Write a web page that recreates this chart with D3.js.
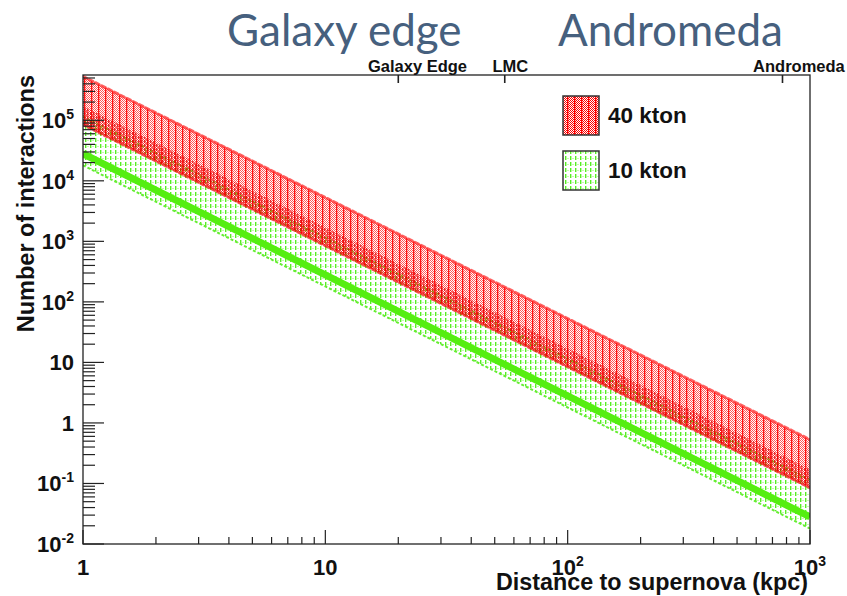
<!DOCTYPE html>
<html>
<head>
<meta charset="utf-8">
<script src="https://cdn.jsdelivr.net/npm/d3@7"></script>
<style>
  html, body { margin: 0; padding: 0; background: #ffffff; }
  svg { display: block; }
</style>
</head>
<body>
<svg id="chart" width="847" height="596"></svg>
<script>
// ---------- data ----------
const distances      = [1, 10, 100, 1000];                 // kpc
const kton40Upper    = [5.3e5, 5.3e3, 53, 0.53];
const kton40Lower    = [8.5e4, 850, 8.5, 0.085];
const kton40CoreUp   = [1.7e5, 1.7e3, 17, 0.17];
const kton40CoreLow  = [9.0e4, 900, 9.0, 0.09];
const kton10Upper    = [1.15e5, 1150, 11.5, 0.115];
const kton10Lower    = [1.8e4, 180, 1.8, 0.018];
const kton10Central  = [2.8e4, 280, 2.8, 0.028];

const yTickExps      = [-2, -1, 0, 1, 2, 3, 4, 5];
const xTickExps      = [0, 1, 2, 3];
const topTickNames   = ["Galaxy Edge", "LMC", "Andromeda"];
const topTickDist    = [20, 55, 770];
const topLabelDist   = [24, 58, 900];
const legendNames    = ["40 kton", "10 kton"];
const bigTitles      = ["Galaxy edge", "Andromeda"];

// ---------- layout ----------
const svg = d3.select("#chart");
const L = 83, R = 810, T = 75, B = 544;
const x = d3.scaleLog().domain([1, 1000]).range([L, R]);
const y = d3.scaleLog().domain([0.01, 5.6e5]).range([B, T]);

const defs = svg.append("defs");
defs.append("clipPath").attr("id", "clip")
  .append("rect").attr("x", L).attr("y", T).attr("width", R - L).attr("height", B - T);

function checker(id, color) {
  const p = defs.append("pattern").attr("id", id).attr("patternUnits", "userSpaceOnUse")
    .attr("width", 2).attr("height", 2);
  p.append("rect").attr("x", 0).attr("y", 0).attr("width", 1).attr("height", 1).attr("fill", color);
  p.append("rect").attr("x", 1).attr("y", 1).attr("width", 1).attr("height", 1).attr("fill", color);
}
checker("redChecker", "#ff0000");
const vl = defs.append("pattern").attr("id", "redLines").attr("patternUnits", "userSpaceOnUse")
  .attr("width", 7).attr("height", 7);
vl.append("rect").attr("x", 0).attr("y", 0).attr("width", 1.3).attr("height", 7).attr("fill", "#ff0000");
const dl = defs.append("pattern").attr("id", "redDense").attr("patternUnits", "userSpaceOnUse")
  .attr("width", 3).attr("height", 4);
dl.append("rect").attr("x", 0).attr("y", 0).attr("width", 1.5).attr("height", 3).attr("fill", "#e00000");
dl.append("rect").attr("x", 1.5).attr("y", 3).attr("width", 1.5).attr("height", 1).attr("fill", "#ff3030");

const gp = defs.append("pattern").attr("id", "greenDash").attr("patternUnits", "userSpaceOnUse")
  .attr("width", 5).attr("height", 6);
gp.append("rect").attr("x", 0).attr("y", 0).attr("width", 1.4).attr("height", 4).attr("fill", "#55ee22");
gp.append("rect").attr("x", 2.5).attr("y", 2).attr("width", 1).attr("height", 1).attr("fill", "#88ff55");

// ---------- bands ----------
const area = d3.area().x(d => x(d.d)).y0(d => y(d.lo)).y1(d => y(d.hi));
const line = d3.line().x(d => x(d.d)).y(d => y(d.v));
const band = (hi, lo) => distances.map((d, i) => ({ d, hi: hi[i], lo: lo[i] }));
const curve = v => distances.map((d, i) => ({ d, v: v[i] }));

const g = svg.append("g").attr("clip-path", "url(#clip)");

// 10 kton band
g.append("path").attr("d", area(band(kton10Upper, kton10Lower))).attr("fill", "url(#greenDash)");
[kton10Upper, kton10Lower].forEach(v =>
  g.append("path").attr("d", line(curve(v))).attr("fill", "none")
    .attr("stroke", "#66ee33").attr("stroke-width", 2).attr("stroke-dasharray", "3 2"));

// 40 kton band
const redBand = area(band(kton40Upper, kton40Lower));
g.append("path").attr("d", redBand).attr("fill", "url(#redChecker)").attr("opacity", 0.65);
g.append("path").attr("d", redBand).attr("fill", "url(#redLines)").attr("opacity", 0.9);
g.append("path").attr("d", area(band(kton40CoreUp, kton40CoreLow))).attr("fill", "url(#redDense)").attr("opacity", 0.75);
g.append("path").attr("d", line(curve(kton40Upper))).attr("fill", "none")
  .attr("stroke", "#ff2020").attr("stroke-width", 3).attr("stroke-linecap", "round")
  .attr("stroke-dasharray", "4 3").attr("opacity", 0.7);
g.append("path").attr("d", line(curve(kton40Lower))).attr("fill", "none")
  .attr("stroke", "#ee0000").attr("stroke-width", 3).attr("stroke-linecap", "round")
  .attr("stroke-dasharray", "3 3").attr("opacity", 0.7);

// 10 kton central line
g.append("path").attr("d", line(curve(kton10Central))).attr("fill", "none")
  .attr("stroke", "#55ee11").attr("stroke-width", 7);

// ---------- frame & axes ----------
svg.append("rect").attr("x", L).attr("y", T).attr("width", R - L).attr("height", B - T)
  .attr("fill", "none").attr("stroke", "#222").attr("stroke-width", 1.3);

const tickCol = "#222";
// x ticks
for (let e = 0; e < 3; e++) {
  for (let k = 1; k <= 9; k++) {
    const v = k * Math.pow(10, e);
    const len = k === 1 ? 14 : 7;
    svg.append("line").attr("x1", x(v)).attr("x2", x(v)).attr("y1", B).attr("y2", B - len)
      .attr("stroke", tickCol).attr("stroke-width", 1.2);
  }
}
svg.append("line").attr("x1", x(1000)).attr("x2", x(1000)).attr("y1", B).attr("y2", B - 14)
  .attr("stroke", tickCol).attr("stroke-width", 1.2);
// y ticks
for (let e = -2; e <= 5; e++) {
  for (let k = 1; k <= 9; k++) {
    const v = k * Math.pow(10, e);
    if (v > y.domain()[1]) continue;
    const len = k === 1 ? 21 : 12;
    svg.append("line").attr("x1", L).attr("x2", L + len).attr("y1", y(v)).attr("y2", y(v))
      .attr("stroke", tickCol).attr("stroke-width", 1.2);
  }
}

const FONT = "'Liberation Sans', Arial, Helvetica, sans-serif";
function powLabel(sel, e) {
  if (e === 0) { sel.text("1"); return; }
  if (e === 1) { sel.text("10"); return; }
  sel.append("tspan").text("10");
  sel.append("tspan").attr("dy", -9).attr("font-size", 14).text(String(e));
}
// y tick labels
yTickExps.forEach(e => {
  const t = svg.append("text").attr("x", 74).attr("y", y(Math.pow(10, e)) + 8)
    .attr("text-anchor", "end").attr("font-family", FONT).attr("font-weight", "bold")
    .attr("font-size", 22).attr("fill", "#111");
  powLabel(t, e);
});
// x tick labels
xTickExps.forEach(e => {
  const t = svg.append("text").attr("x", x(Math.pow(10, e))).attr("y", 575)
    .attr("text-anchor", "middle").attr("font-family", FONT).attr("font-weight", "bold")
    .attr("font-size", 22).attr("fill", "#111");
  powLabel(t, e);
});

// axis titles
svg.append("text").attr("x", R - 2).attr("y", 590).attr("text-anchor", "end")
  .attr("font-family", FONT).attr("font-weight", "bold").attr("font-size", 23.3).attr("fill", "#111")
  .text("Distance to supernova (kpc)");
svg.append("text").attr("transform", `translate(34, ${T}) rotate(-90)`).attr("text-anchor", "end")
  .attr("font-family", FONT).attr("font-weight", "bold").attr("font-size", 23.5).attr("fill", "#111")
  .text("Number of interactions");

// top axis ticks & labels
topTickNames.forEach((name, i) => {
  svg.append("line").attr("x1", x(topTickDist[i])).attr("x2", x(topTickDist[i]))
    .attr("y1", T).attr("y2", T + 8).attr("stroke", tickCol).attr("stroke-width", 1.6);
  svg.append("text").attr("x", x(topLabelDist[i])).attr("y", 72).attr("text-anchor", "middle")
    .attr("font-family", FONT).attr("font-weight", "bold").attr("font-size", 16.5).attr("fill", "#111")
    .text(name);
});

// legend
const legFills = [["url(#redChecker)", "url(#redLines)"], ["url(#greenDash)"]];
legendNames.forEach((name, i) => {
  const ly = 96 + i * 55;
  legFills[i].forEach(f => svg.append("rect").attr("x", 563).attr("y", ly).attr("width", 36).attr("height", 39)
    .attr("fill", f));
  svg.append("rect").attr("x", 563).attr("y", ly).attr("width", 36).attr("height", 39)
    .attr("fill", "none").attr("stroke", "#333").attr("stroke-width", 1.5);
  svg.append("text").attr("x", 608).attr("y", ly + 27).attr("font-family", FONT)
    .attr("font-weight", "bold").attr("font-size", 22.5).attr("fill", "#111").text(name);
});

// big annotations
const bigX = [227, 558];
bigTitles.forEach((t, i) => {
  svg.append("text").attr("x", bigX[i]).attr("y", 46).attr("font-family", "Lato, 'Open Sans', sans-serif")
    .attr("font-size", 44).attr("fill", "#46607e").text(t);
});
</script>
</body>
</html>
